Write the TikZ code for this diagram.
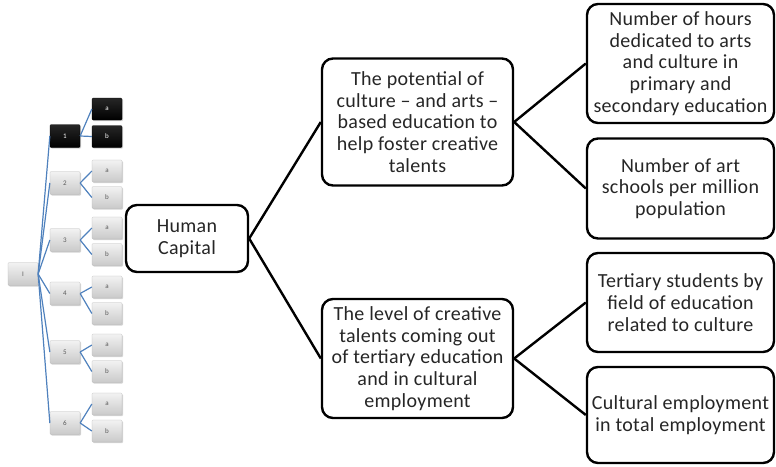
\documentclass[tikz,border=0pt]{standalone}
\usepackage{fontspec}
\setmainfont{Carlito}
\newfontfamily\boxfont[LetterSpace=1.6]{Carlito}
\usetikzlibrary{shadows}
\definecolor{treeblue}{RGB}{79,129,189}
\tikzset{
  bigbox/.style={draw=black, line width=2.4pt, rounded corners=11pt, fill=white,
    align=center, inner sep=0pt, text=black!85,
    font=\boxfont\fontsize{20}{21.7}\selectfont},
  conn/.style={line width=2.4pt, black},
  graybox/.style={rectangle, draw=gray!55, line width=0.3pt, rounded corners=1pt,
    top color=gray!10, bottom color=gray!42, text=gray!70!black,
    minimum width=30pt, minimum height=23pt, inner sep=0pt,
    font=\fontsize{7}{8}\selectfont,
    drop shadow={shadow xshift=1pt, shadow yshift=-1.2pt, opacity=0.35}},
  blackbox/.style={graybox, draw=black, top color=black!85, bottom color=black, text=white},
  tline/.style={treeblue, line width=1.2pt},
}
\begin{document}
\begin{tikzpicture}[x=1pt,y=-1pt]
\useasboundingbox (0,0) rectangle (776,466);
% small tree
\node[graybox] (r) at (23,274) {I};
\node[blackbox] (n1) at (65,136) {1};
\node[graybox] (n2) at (65,183) {2};
\node[graybox] (n3) at (65,240) {3};
\node[graybox] (n4) at (65,293.5) {4};
\node[graybox] (n5) at (65,352) {5};
\node[graybox] (n6) at (65,423) {6};
\node[blackbox, minimum height=22pt] (n1a) at (107,109) {a};
\node[blackbox, minimum height=22pt] (n1b) at (107,136.5) {b};
\node[graybox, minimum height=22pt] (n2a) at (107,171) {a};
\node[graybox, minimum height=22pt] (n2b) at (107,197.5) {b};
\node[graybox, minimum height=22pt] (n3a) at (107,228) {a};
\node[graybox, minimum height=22pt] (n3b) at (107,254.5) {b};
\node[graybox, minimum height=22pt] (n4a) at (107,287) {a};
\node[graybox, minimum height=22pt] (n4b) at (107,313.5) {b};
\node[graybox, minimum height=22pt] (n5a) at (107,345) {a};
\node[graybox, minimum height=22pt] (n5b) at (107,371.5) {b};
\node[graybox, minimum height=22pt] (n6a) at (107,404) {a};
\node[graybox, minimum height=22pt] (n6b) at (107,431) {b};
\foreach \i in {1,...,6}{
  \draw[tline] (r.east) -- (n\i.west);
  \draw[tline] (n\i.east) -- (n\i a.west);
  \draw[tline] (n\i.east) -- (n\i b.west);
}
% main diagram
\node[bigbox, minimum width=122pt, minimum height=67pt] (hc) at (187,238.5) {Human\\Capital};
\node[bigbox, minimum width=191pt, minimum height=127pt] (pot) at (417.5,122)
  {The potential of\\culture – and arts –\\based education to\\help foster creative\\talents};
\node[bigbox, minimum width=191pt, minimum height=119pt] (lev) at (417.5,358.5)
  {The level of creative\\talents coming out\\of tertiary education\\and in cultural\\employment};
\node[bigbox, minimum width=187pt, minimum height=119pt] (ba) at (680.5,63.5)
  {Number of hours\\dedicated to arts\\and culture in\\primary and\\secondary education};
\node[bigbox, minimum width=187pt, minimum height=100pt] (bb) at (680.5,188.5)
  {Number of art\\schools per million\\population};
\node[bigbox, minimum width=187pt, minimum height=99pt] (bc) at (680.5,302.5)
  {Tertiary students by\\field of education\\related to culture};
\node[bigbox, minimum width=187pt, minimum height=96pt] (bd) at (680.5,415)
  {Cultural employment\\in total employment};
\draw[conn] (hc.east) -- (pot.west);
\draw[conn] (hc.east) -- (lev.west);
\draw[conn] (pot.east) -- (ba.west);
\draw[conn] (pot.east) -- (bb.west);
\draw[conn] (lev.east) -- (bc.west);
\draw[conn] (lev.east) -- (bd.west);
\end{tikzpicture}
\end{document}
